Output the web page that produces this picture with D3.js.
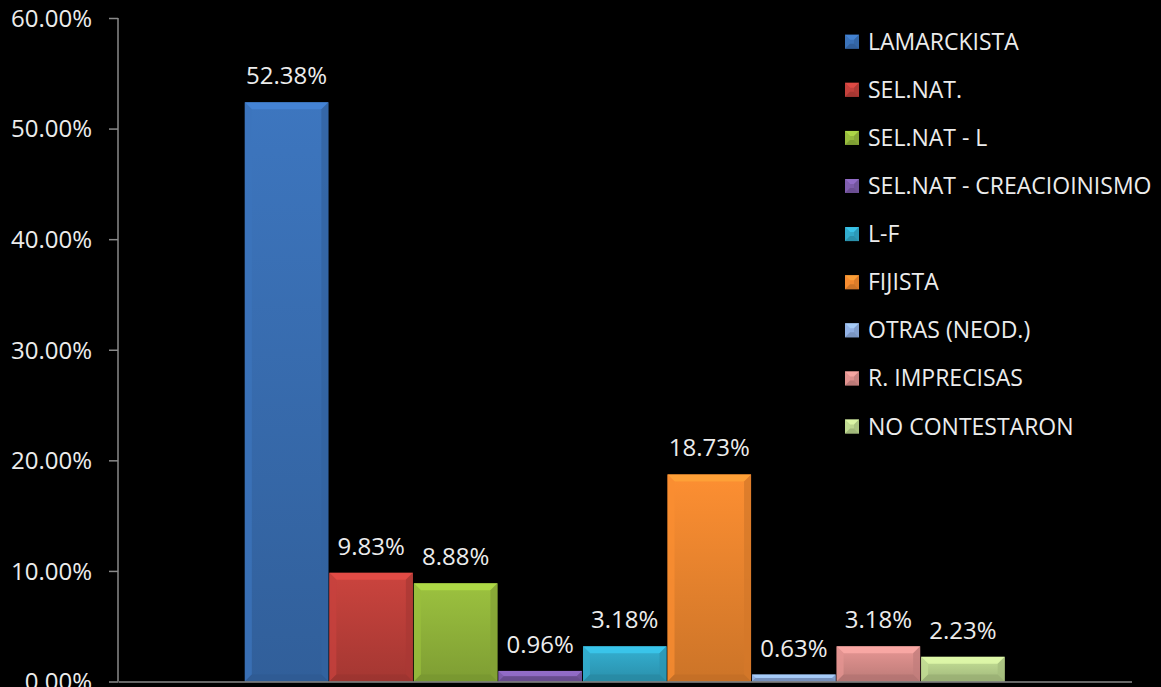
<!DOCTYPE html>
<html>
<head>
<meta charset="utf-8">
<script src="https://cdn.jsdelivr.net/npm/d3@7/dist/d3.min.js"></script>
<style>
  html, body { margin: 0; padding: 0; background: #000; }
  svg { display: block; }
  text { font-family: "Open Sans", "Noto Sans", sans-serif; fill: #ececec; }
</style>
</head>
<body>
<svg id="chart" width="1161" height="687"></svg>
<script>
// Response categories, in legend / bar order
const categories = [
  "LAMARCKISTA",
  "SEL.NAT.",
  "SEL.NAT - L",
  "SEL.NAT - CREACIOINISMO",
  "L-F",
  "FIJISTA",
  "OTRAS (NEOD.)",
  "R. IMPRECISAS",
  "NO CONTESTARON"
];
// Share of answers, in percent
const values = [52.38, 9.83, 8.88, 0.96, 3.18, 18.73, 0.63, 3.18, 2.23];
// Y axis ticks, in percent
const yTicks = [0, 10, 20, 30, 40, 50, 60];
// Fill colour of each category
const colors = ["#3a70b5", "#c0403b", "#94b83c", "#7d5caa", "#31a8c8",
                "#f0882f", "#8faee0", "#dc8f8c", "#bcd68f"];

const svg = d3.select("#chart");
const plot = { left: 118, right: 1131.5, top: 18, bottom: 681.5 };

const y = d3.scaleLinear().domain([0, 60]).range([plot.bottom, plot.top]);

// single cluster of bars, with an empty gap on both sides
const group = d3.scaleBand().domain(["all"])
  .range([plot.left, plot.right]).paddingOuter(0.166).paddingInner(0);
const x = d3.scaleBand().domain(categories)
  .range([group("all"), group("all") + group.bandwidth()]).padding(0);

const defs = svg.append("defs");
colors.forEach((c, i) => {
  const g = defs.append("linearGradient").attr("id", "grad" + i)
    .attr("x1", 0).attr("y1", 0).attr("x2", 0).attr("y2", 1);
  g.append("stop").attr("offset", "0%").attr("stop-color", d3.color(c).brighter(0.15));
  g.append("stop").attr("offset", "100%").attr("stop-color", d3.color(c).darker(0.45));
});

// bevelled block: body plus four edge facets
function bevel(sel, x0, y0, w, h, c, fill, b) {
  b = Math.min(b, h / 2, w / 2);
  const base = d3.color(c);
  sel.append("rect").attr("x", x0).attr("y", y0).attr("width", w).attr("height", h).attr("fill", fill);
  const facets = [
    [[x0, y0], [x0 + w, y0], [x0 + w - b, y0 + b], [x0 + b, y0 + b], base.brighter(0.55)],
    [[x0, y0], [x0 + b, y0 + b], [x0 + b, y0 + h - b], [x0, y0 + h], base.brighter(0.1)],
    [[x0 + w, y0], [x0 + w - b, y0 + b], [x0 + w - b, y0 + h - b], [x0 + w, y0 + h], base.darker(0.35)],
    [[x0, y0 + h], [x0 + b, y0 + h - b], [x0 + w - b, y0 + h - b], [x0 + w, y0 + h], base.darker(0.6)]
  ];
  facets.forEach(f => {
    sel.append("polygon")
      .attr("points", f.slice(0, 4).map(p => p.join(",")).join(" "))
      .attr("fill", f[4]).attr("fill-opacity", 0.75);
  });
}

// bars
const bars = svg.append("g");
categories.forEach((cat, i) => {
  const g = bars.append("g");
  const x0 = x(cat), w = x.bandwidth();
  const y0 = y(values[i]), h = y(0) - y0;
  bevel(g, x0 + 0.5, y0, w - 1, h, colors[i], `url(#grad${i})`, 7);
});

// value labels
svg.append("g").selectAll("text").data(categories).join("text")
  .attr("x", d => x(d) + x.bandwidth() / 2)
  .attr("y", (d, i) => y(values[i]) - 18)
  .attr("text-anchor", "middle")
  .attr("font-size", 24)
  .text((d, i) => values[i].toFixed(2) + "%");

// y axis
const yAxis = svg.append("g").attr("transform", `translate(${plot.left},0)`)
  .call(d3.axisLeft(y).tickValues(yTicks).tickSize(9).tickPadding(17)
    .tickFormat(d => d3.format(".2f")(d) + "%"));
yAxis.select(".domain").attr("stroke", "#8a8a8a").attr("stroke-width", 1.5)
  .attr("d", `M-0,${plot.top}V${plot.bottom}`);
yAxis.selectAll(".tick line").attr("stroke", "#8a8a8a").attr("stroke-width", 1.5);
yAxis.selectAll(".tick text").attr("font-size", 24).attr("fill", "#ececec")
  .attr("font-family", "'Open Sans', sans-serif").attr("dy", "0.35em");

// x axis baseline
const xAxis = svg.append("g").attr("transform", `translate(0,${plot.bottom})`)
  .call(d3.axisBottom(d3.scaleLinear().domain([0, 1]).range([plot.left, plot.right])).ticks(0).tickSize(0));
xAxis.select(".domain").attr("stroke", "#8a8a8a").attr("stroke-width", 1.5);

// legend
const legend = svg.append("g").attr("transform", "translate(845,0)");
categories.forEach((cat, i) => {
  const cy = 41.7 + i * 48.1;
  const g = legend.append("g");
  bevel(g, 0, cy - 7, 14, 14, colors[i], colors[i], 5);
  g.append("text").attr("x", 23).attr("y", cy).attr("dy", "0.35em")
    .attr("font-size", 23).text(cat);
});
</script>
</body>
</html>
